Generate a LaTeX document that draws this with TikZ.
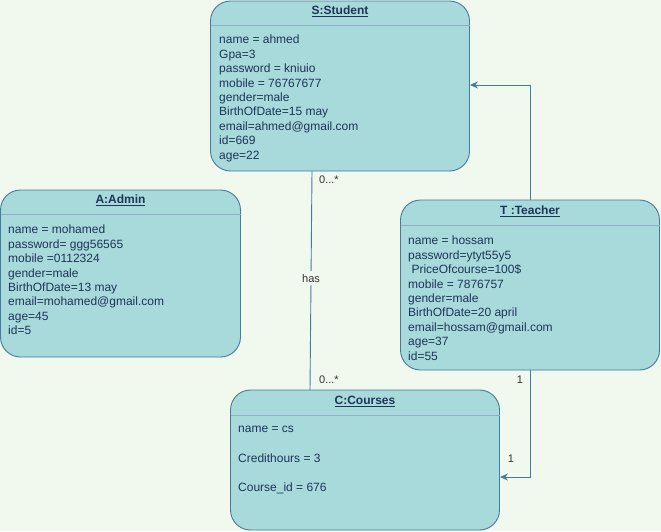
\documentclass[tikz,border=0pt]{standalone}
\usepackage{fontspec}
\setmainfont{Liberation Sans}
\usetikzlibrary{arrows.meta}
\definecolor{bgc}{HTML}{F1F8EE}
\definecolor{boxfill}{HTML}{A8DADC}
\definecolor{boxline}{HTML}{457B9D}
\definecolor{txt}{HTML}{1D3557}
\definecolor{lbl}{HTML}{333333}
\tikzset{
  objbox/.style={draw=boxline, fill=boxfill, rounded corners=20pt, line width=0.9pt, inner sep=0pt},
  sepline/.style={draw=boxline!60!white, line width=1pt},
  hdr/.style={font=\fontsize{12}{14}\selectfont\bfseries, text=txt, inner sep=0pt},
  body/.style={font=\fontsize{12}{14.4}\selectfont, text=txt, align=left, anchor=north west, inner sep=0pt},
  conn/.style={draw=boxline, line width=0.9pt},
  elbl/.style={font=\fontsize{11}{13}\selectfont, text=lbl, inner sep=1pt},
}
\begin{document}
\begin{tikzpicture}[x=1pt,y=-1pt]
\fill[bgc] (0,0) rectangle (661,531);
\useasboundingbox (0,0) rectangle (661,531);

% Student
\node[objbox, minimum width=259pt, minimum height=170pt] (S) at (340,86) {};
\draw[sepline] (210.5,25) -- (469.5,25);
\node[hdr] (Sh) at (340,11.5) {\underline{S:Student}};
\node[body] (Sb) at (219,35) {name = ahmed\\Gpa=3\\password = kniuio\\mobile = 76767677\\gender=male\\BirthOfDate=15 may\\email=ahmed@gmail.com\\id=669\\age=22};

% Admin
\node[objbox, minimum width=240pt, minimum height=167pt] (A) at (120.5,273.5) {};
\draw[sepline] (0.5,214.5) -- (240.5,214.5);
\node[hdr] (Ah) at (120.5,200.5) {\underline{A:Admin}};
\node[body] (Ab) at (8,225) {name = mohamed\\password= ggg56565\\mobile =0112324\\gender=male\\BirthOfDate=13 may\\email=mohamed@gmail.com\\age=45\\id=5};

% Teacher
\node[objbox, minimum width=259pt, minimum height=170pt] (T) at (530,285) {};
\draw[sepline] (400.5,225) -- (659.5,225);
\node[hdr] (Th) at (530,211.5) {\underline{T :Teacher}};
\node[body] (Tb) at (408,236) {name = hossam\\password=ytyt55y5\\\ PriceOfcourse=100\$\\mobile = 7876757\\gender=male\\BirthOfDate=20 april\\email=hossam@gmail.com\\age=37\\id=55};

% Courses
\node[objbox, minimum width=269pt, minimum height=140pt] (C) at (365,460) {};
\draw[sepline] (230.5,415) -- (499.5,415);
\node[hdr] (Ch) at (365,401.5) {\underline{C:Courses}};
\node[body, font=\fontsize{12}{29.6}\selectfont] (Cb) at (238,426) {name = cs\\Credithours = 3\\Course\_id = 676};

% connectors
\coordinate (sbot) at (312,171);
\coordinate (ctop) at (310,390);
\draw[conn] (sbot) -- (ctop) node[pos=0.49, elbl, fill=bgc, inner sep=3pt] (has) {has};
\node[elbl, anchor=west] (m1) at (318,180) {0...*};
\node[elbl, anchor=west] (m2) at (318,380) {0...*};

\draw[conn, -{Stealth[length=8pt,width=7pt]}] (T.north) |- (S.east |- 0,85);
\draw[conn, -{Stealth[length=8pt,width=7pt]}] (T.south) |- (C.east |- 0,477);
\node[elbl] (t1) at (520,380) {1};
\node[elbl] (c1) at (511,459) {1};
\end{tikzpicture}
\end{document}
